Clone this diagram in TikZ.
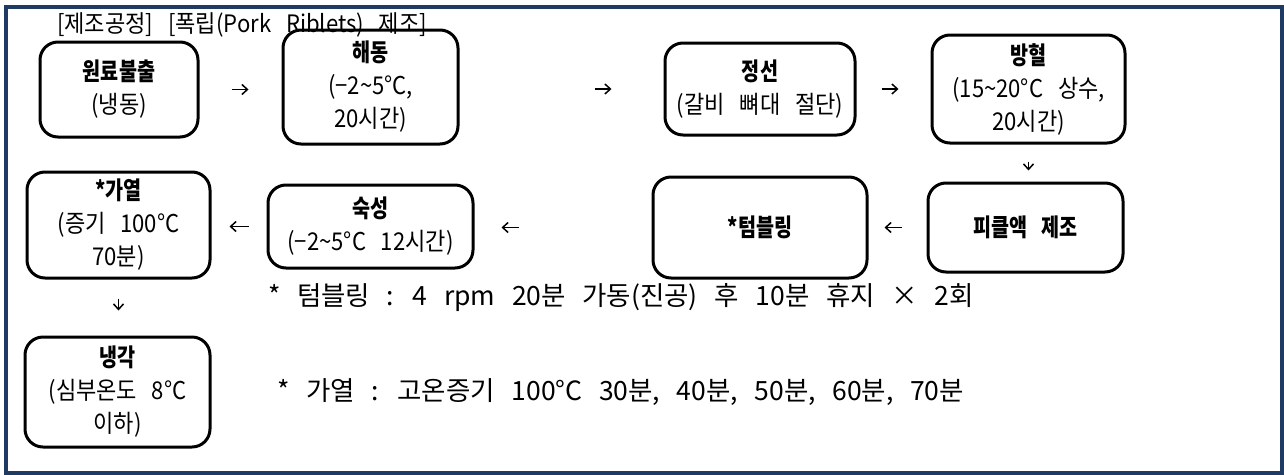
\documentclass[tikz,border=0pt]{standalone}
\usepackage{fontspec}
\usepackage{graphicx}
\setmainfont{Noto Sans CJK KR}[WordSpace=3]
\newfontfamily\notefont{Noto Sans CJK KR}[WordSpace=2.8]
\usetikzlibrary{arrows.meta}
\definecolor{framenavy}{RGB}{31,58,99}
\newcommand{\nb}[1]{\scalebox{0.8}[1]{\textbf{#1}}}
\newcommand{\nr}[1]{\scalebox{0.9}[1]{#1}}
\begin{document}
\begin{tikzpicture}[x=1pt,y=-1pt,
  box/.style={draw=black, line width=3pt, rounded corners=18pt, align=center,
    font=\fontsize{24.5}{33}\selectfont, inner sep=0pt},
  arr/.style={line width=1.5pt, -{Straight Barb[length=5.5pt,width=10pt]}},
  note/.style={anchor=west, font=\notefont\fontsize{26.5}{28}\selectfont, inner sep=0pt}]
\useasboundingbox (0,0) rectangle (1284,474);
\draw[framenavy, line width=4pt] (6,7) rectangle (1281.5,472.5);

\node[anchor=west, inner sep=0pt, font=\fontsize{24}{26}\selectfont] (title) at (57,25)
  {\scalebox{0.92}[1]{[제조공정] [폭립(Pork Riblets) 제조]}};

\node[box, minimum width=158pt, minimum height=95pt] (b1) at (119,89.5)
  {\nb{원료불출}\\\nr{(냉동)}};
\node[box, minimum width=175pt, minimum height=114pt] (b2) at (370.5,87)
  {\nb{해동}\\\nr{(−2\textasciitilde5°C,}\\\nr{20시간)}};
\node[box, minimum width=190pt, minimum height=92pt] (b3) at (760,89)
  {\nb{정선}\\\nr{(갈비 뼈대 절단)}};
\node[box, minimum width=193pt, minimum height=108pt] (b4) at (1028.5,89)
  {\nb{방혈}\\\nr{(15\textasciitilde20°C 상수,}\\\nr{20시간)}};
\node[box, minimum width=195pt, minimum height=89pt] (b5) at (1025.5,227.5)
  {\nb{피클액 제조}};
\node[box, minimum width=214pt, minimum height=101pt] (b6) at (760,227.5)
  {\nb{*텀블링}};
\node[box, minimum width=205pt, minimum height=83pt] (b7) at (370.5,226.5)
  {\nb{숙성}\\\nr{(−2\textasciitilde5°C 12시간)}};
\node[box, minimum width=183pt, minimum height=106pt] (b8) at (118.5,225)
  {\nb{*가열}\\\nr{(증기 100°C}\\\nr{70분)}};
\node[box, minimum width=185pt, minimum height=110pt] (b9) at (117.5,392)
  {\nb{냉각}\\\nr{(심부온도 8°C}\\\nr{이하)}};

\node[note] (n1) at (268,298) {* 텀블링 : 4 rpm 20분 가동(진공) 후 10분 휴지 × 2회};
\node[note] (n2) at (277,392) {* 가열 : 고온증기 100°C 30분, 40분, 50분, 60분, 70분};

\draw[arr, shorten <=32pt, shorten >=33pt] (b1.east) -- (b1.east -| b2.west);
\draw[arr, shorten <=135pt, shorten >=52pt] (b2.east |- b3.west) -- (b3.west);
\draw[arr, shorten <=25pt, shorten >=32pt] (b3.east) -- (b3.east -| b4.west);
\draw[arr, shorten <=17pt, shorten >=11pt] (b4.south) -- (b4.south |- b5.north);
\draw[arr, shorten <=25pt, shorten >=16pt] (b5.west) -- (b5.west -| b6.east);
\draw[arr, shorten <=133pt, shorten >=27pt] (b6.west) -- (b6.west -| b7.east);
\draw[arr, shorten <=18pt, shorten >=18pt] (b7.west) -- (b7.west -| b8.east);
\draw[arr, shorten <=19pt, shorten >=25pt] (b8.south) -- (b8.south |- b9.north);
\end{tikzpicture}
\end{document}
